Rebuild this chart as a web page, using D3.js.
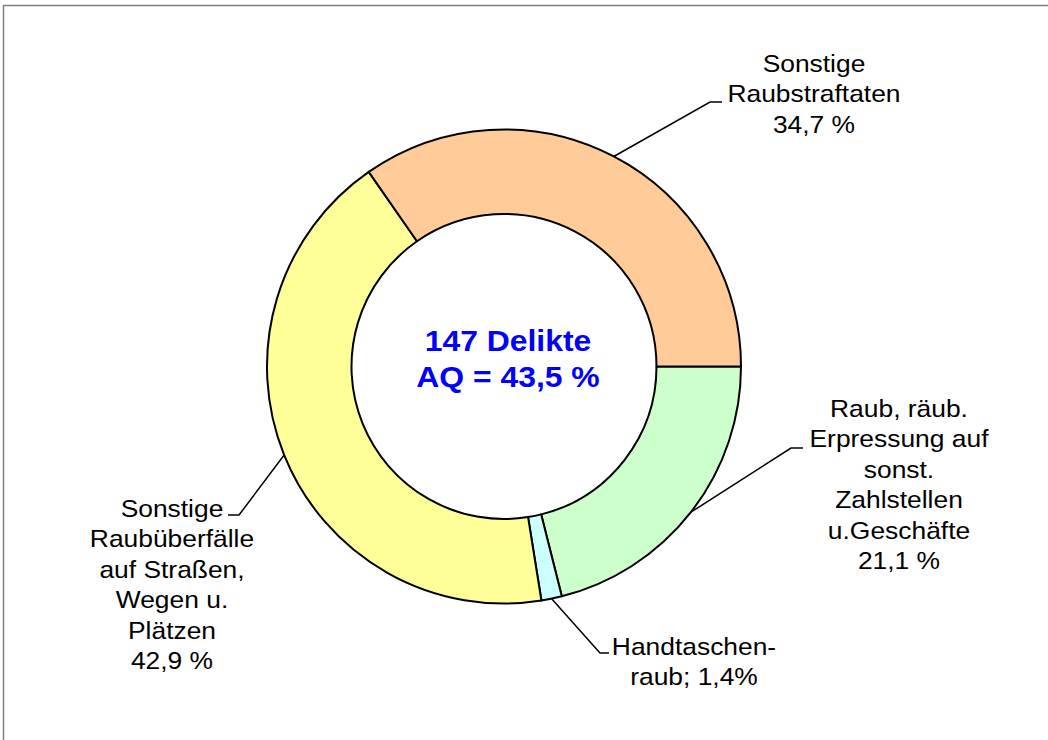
<!DOCTYPE html>
<html>
<head>
<meta charset="utf-8">
<script src="https://cdn.jsdelivr.net/npm/d3@7"></script>
<style>
  body { margin: 0; background: #fff; }
  svg { display: block; font-family: "Liberation Sans", Arial, sans-serif; }
</style>
</head>
<body>
<div id="chart"></div>
<script>
// data (start at 3 o'clock, clockwise)
const categories = [
    "Raub, räub. Erpressung auf sonst. Zahlstellen u.Geschäfte",
    "Handtaschenraub",
    "Sonstige Raubüberfälle auf Straßen, Wegen u. Plätzen",
    "Sonstige Raubstraftaten"
];
const shares = [21.1, 1.4, 42.9, 34.7];
const labelLines = [
    ["Raub, räub.", "Erpressung auf", "sonst.", "Zahlstellen", "u.Geschäfte", "21,1 %"],
    ["Handtaschen-", "raub; 1,4%"],
    ["Sonstige", "Raubüberfälle", "auf Straßen,", "Wegen u.", "Plätzen", "42,9 %"],
    ["Sonstige", "Raubstraftaten", "34,7 %"]
];
const centerLines = ["147 Delikte", "AQ = 43,5 %"];

const colors = ["#CCFFCC", "#CCFFFF", "#FFFF99", "#FFCC99"];

// label layout: text centre x, first baseline y, elbow of leader, end of elbow
const labelLayout = [
    {x: 899, y: 417, elbow: [791, 448], end: [803, 448]},
    {x: 694, y: 655, elbow: [600, 653], end: [609, 653]},
    {x: 172, y: 517, elbow: [239, 515], end: [228, 515]},
    {x: 814, y: 72,  elbow: [710, 102], end: [722, 102]}
];

const width = 1048, height = 740;
const cx = 504, cy = 366.5, outerR = 237, innerR = 152.5;
const lineStep = 30.5;
const stretch = 1.1;   // text in the original is a bit wider than Arial

const svg = d3.select("#chart").append("svg")
    .attr("width", width)
    .attr("height", height);

// frame (only top and left edges visible)
svg.append("path")
    .attr("d", `M3.5,${height} V5.5 H${width}`)
    .attr("fill", "none")
    .attr("stroke", "#7f7f7f")
    .attr("stroke-width", 1.5);

const pie = d3.pie()
    .sort(null)
    .value(d => d)
    .startAngle(Math.PI / 2)
    .endAngle(Math.PI / 2 + 2 * Math.PI);

const arcs = pie(shares);

const arc = d3.arc()
    .innerRadius(innerR)
    .outerRadius(outerR);

const g = svg.append("g")
    .attr("transform", `translate(${cx},${cy})`);

g.selectAll("path.slice")
    .data(arcs)
    .join("path")
    .attr("class", "slice")
    .attr("d", arc)
    .attr("fill", (d, i) => colors[i])
    .attr("stroke", "#000")
    .attr("stroke-width", 2)
    .attr("stroke-linejoin", "round");

// leader lines from middle of outer arc
svg.selectAll("polyline.leader")
    .data(arcs)
    .join("polyline")
    .attr("class", "leader")
    .attr("points", (d, i) => {
        const a = (d.startAngle + d.endAngle) / 2;
        const px = cx + outerR * Math.sin(a);
        const py = cy - outerR * Math.cos(a);
        const L = labelLayout[i];
        return [[px, py], L.elbow, L.end].map(p => p.join(",")).join(" ");
    })
    .attr("fill", "none")
    .attr("stroke", "#000")
    .attr("stroke-width", 1.5);

// slice labels
labelLines.forEach((lines, i) => {
    const L = labelLayout[i];
    const t = svg.append("text")
        .attr("transform", `translate(${L.x},0) scale(${stretch},1)`)
        .attr("text-anchor", "middle")
        .attr("font-size", 24)
        .attr("fill", "#000");
    lines.forEach((s, j) => {
        t.append("tspan")
            .attr("x", 0)
            .attr("y", L.y + j * lineStep)
            .text(s);
    });
});

// centre text
svg.selectAll("text.center")
    .data(centerLines)
    .join("text")
    .attr("class", "center")
    .attr("transform", `translate(${cx + 4},0) scale(${stretch},1)`)
    .attr("x", 0)
    .attr("y", (d, i) => 351 + i * 36)
    .attr("text-anchor", "middle")
    .attr("font-size", 29)
    .attr("font-weight", "bold")
    .attr("fill", "#0000FF")
    .text(d => d);
</script>
</body>
</html>
